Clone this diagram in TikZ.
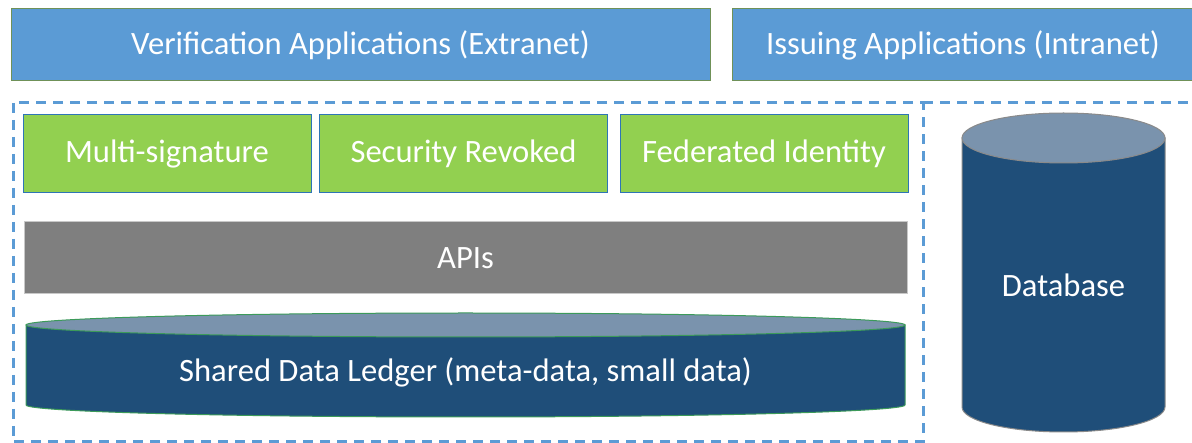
\documentclass[tikz,border=0pt]{standalone}
\usepackage{fontspec}
\setmainfont{Carlito}
\definecolor{appblue}{HTML}{5B9BD5}
\definecolor{appedge}{HTML}{6F9158}
\definecolor{modgreen}{HTML}{92D050}
\definecolor{modedge}{HTML}{2E75B6}
\definecolor{apigray}{HTML}{7F7F7F}
\definecolor{apiedge}{HTML}{C8C8C8}
\definecolor{navy}{HTML}{1F4E79}
\definecolor{navytop}{HTML}{7A93AD}
\definecolor{ledgeredge}{HTML}{3C9A5A}
\definecolor{dbedge}{HTML}{8A8A8A}
\tikzset{
  lbl/.style={text=white, font=\fontsize{32.6}{39}\selectfont, inner sep=0pt},
  appbox/.style={lbl, draw=appedge, line width=1pt, fill=appblue, minimum height=72pt},
  modbox/.style={lbl, draw=modedge, line width=1pt, fill=modgreen, minimum height=78pt, minimum width=288pt},
  apibox/.style={lbl, draw=apiedge, line width=1pt, fill=apigray, minimum height=72pt, minimum width=883pt},
  zone/.style={draw=appblue, line width=3pt, dash pattern=on 10pt off 7pt},
}
\begin{document}
\begin{tikzpicture}[x=1pt,y=-1pt]
\useasboundingbox (0,0) rectangle (1192,443);
\clip (0,0) rectangle (1192,443);
% top application boxes
\node[appbox, minimum width=699pt] (verif) at (360.5,45) {Verification Applications (Extranet)};
\node[appbox, minimum width=462pt] (issue) at (963,45) {Issuing Applications (Intranet)};
% dashed zones
\draw[zone] (13,103) rectangle (923,442);
\draw[zone] (923,103) -- (1195,103);
% modules
\node[modbox] (multi) at (167,154) {Multi-signature};
\node[modbox] (secrev) at (463.5,154) {Security Revoked};
\node[modbox] (fedid) at (764,154) {Federated Identity};
% APIs
\node[apibox] (apis) at (465.5,258) {APIs};
% shared ledger cylinder
\fill[navy, draw=ledgeredge, line width=1pt] (26,325) -- (26,405) arc[start angle=180, end angle=0, x radius=439.5, y radius=12] -- (905,325) -- cycle;
\filldraw[fill=navytop, draw=ledgeredge, line width=1pt] (465.5,325) ellipse [x radius=439.5, y radius=12];
\node[lbl] (ledger) at (465.5,372) {Shared Data Ledger (meta-data, small data)};
% database cylinder
\fill[navy, draw=dbedge, line width=1pt] (962,138) -- (962,407) arc[start angle=180, end angle=0, x radius=101.5, y radius=25] -- (1165,138) -- cycle;
\filldraw[fill=navytop, draw=dbedge, line width=1pt] (1063.5,138) ellipse [x radius=101.5, y radius=25];
\node[lbl] (db) at (1063.5,285) {Database};
\end{tikzpicture}
\end{document}
